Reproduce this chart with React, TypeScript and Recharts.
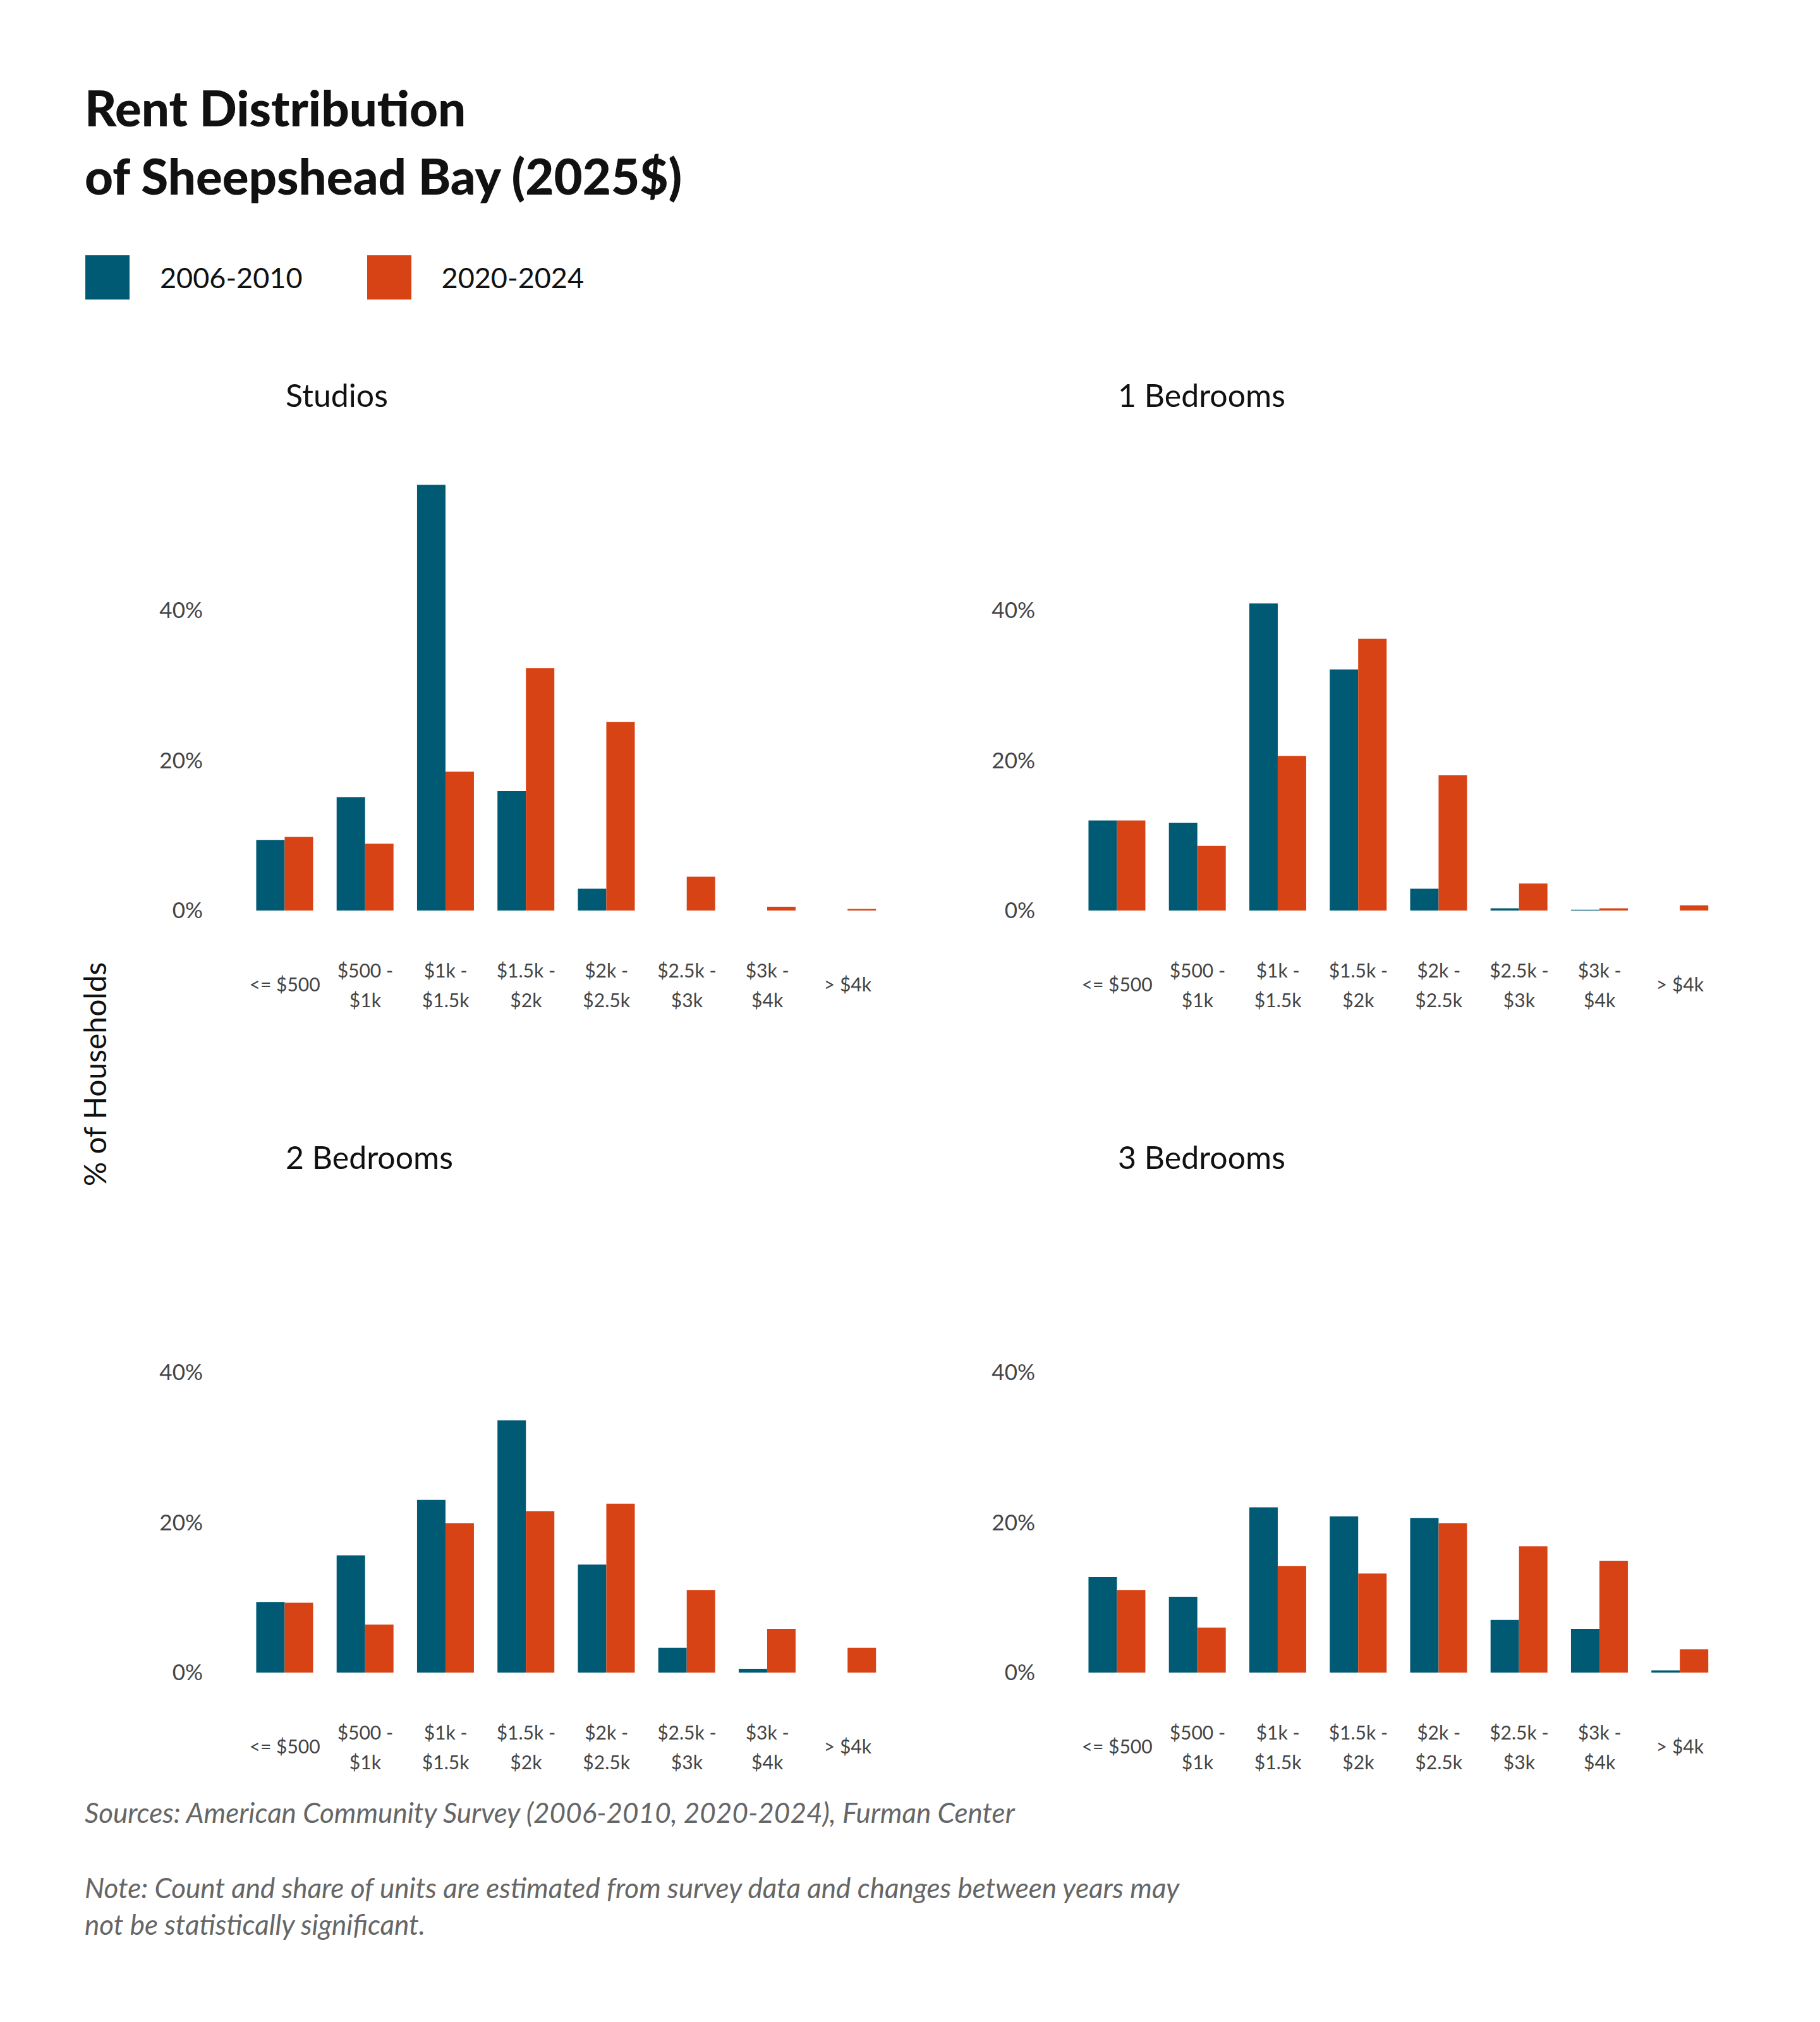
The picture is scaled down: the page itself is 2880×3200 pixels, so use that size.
import { BarChart, Bar, XAxis, YAxis } from 'recharts'

const CATEGORIES = ['<= $500', '$500 -\n$1k', '$1k -\n$1.5k', '$1.5k -\n$2k', '$2k -\n$2.5k', '$2.5k -\n$3k', '$3k -\n$4k', '> $4k']
const PANELS = ['Studios', '1 Bedrooms', '2 Bedrooms', '3 Bedrooms']
const EARLY = [
  [9.4, 15.1, 56.7, 15.9, 2.9, 0, 0, 0],
  [12.0, 11.7, 40.9, 32.1, 2.9, 0.3, 0.1, 0],
  [9.4, 15.6, 23.0, 33.6, 14.4, 3.3, 0.5, 0],
  [12.7, 10.1, 22.0, 20.8, 20.6, 7.0, 5.8, 0.3],
]
const LATE = [
  [9.8, 8.9, 18.5, 32.3, 25.1, 4.5, 0.5, 0.2],
  [12.0, 8.6, 20.6, 36.2, 18.0, 3.6, 0.3, 0.7],
  [9.3, 6.4, 19.9, 21.5, 22.5, 11.0, 5.8, 3.3],
  [11.0, 6.0, 14.2, 13.2, 19.9, 16.8, 14.9, 3.1],
]
const Y_TICKS = [0, 20, 40]

const TEAL = '#005a74'
const ORANGE = '#d84315'
const FONT = 'Lato, "Open Sans", sans-serif'

function XTick({ x, y, payload }: any) {
  const lines = String(payload.value).split('\n')
  const y0 = lines.length === 1 ? y + 120 : y + 98
  return (
    <text x={x} textAnchor="middle" fill="#444" fontSize={30} fontFamily={FONT}>
      {lines.map((l, i) => (
        <tspan key={i} x={x} y={y0 + i * 47}>{l}</tspan>
      ))}
    </text>
  )
}

function Panel({ idx, left, top }: { idx: number; left: number; top: number }) {
  const data = CATEGORIES.map((c, i) => ({ cat: c, early: EARLY[idx][i], late: LATE[idx][i] }))
  return (
    <div style={{ position: 'absolute', left, top }}>
      <div style={{ position: 'absolute', left: 317, top: 0, fontSize: 50, fontFamily: FONT, color: '#111', whiteSpace: 'nowrap' }}>
        {PANELS[idx]}
      </div>
      <div style={{ position: 'absolute', left: 0, top: 110 }}>
        <BarChart width={1270} height={936} data={data} margin={{ top: 23, right: 0, bottom: 0, left: 0 }}
          barCategoryGap="14.5%" barGap={0}>
          <XAxis dataKey="cat" axisLine={false} tickLine={false} interval={0} height={200} tick={<XTick />} />
          <YAxis domain={[0, 60]} ticks={Y_TICKS} width={252} axisLine={false} tickLine={false} tickMargin={60}
            tickFormatter={(v) => `${v}%`} tick={{ fontSize: 35, fill: '#444', fontFamily: FONT }} />
          <Bar dataKey="early" fill={TEAL} isAnimationActive={false} />
          <Bar dataKey="late" fill={ORANGE} isAnimationActive={false} />
        </BarChart>
      </div>
    </div>
  )
}

export default function App() {
  return (
    <div style={{ position: 'relative', width: 2880, height: 3200, background: '#fff', fontFamily: FONT, margin: -8 }}>
      <div style={{ position: 'absolute', left: 134, top: 116, fontSize: 78, fontWeight: 900, lineHeight: '108px', color: '#111' }}>
        Rent Distribution<br />of Sheepshead Bay (2025$)
      </div>
      <div style={{ position: 'absolute', left: 135, top: 404, display: 'flex', alignItems: 'center', fontSize: 45, color: '#111' }}>
        <span style={{ width: 70, height: 70, background: TEAL, display: 'inline-block', marginRight: 48 }} />
        <span style={{ marginRight: 102 }}>2006-2010</span>
        <span style={{ width: 70, height: 70, background: ORANGE, display: 'inline-block', marginRight: 48 }} />
        <span>2020-2024</span>
      </div>
      <div style={{ position: 'absolute', left: 149, top: 1700, transform: 'translate(-50%, -50%) rotate(-90deg)', fontSize: 48, color: '#111', whiteSpace: 'nowrap' }}>
        % of Households
      </div>
      <Panel idx={0} left={135} top={595} />
      <Panel idx={1} left={1452} top={595} />
      <Panel idx={2} left={135} top={1801} />
      <Panel idx={3} left={1452} top={1801} />
      <div style={{ position: 'absolute', left: 134, top: 2842, fontSize: 44, fontStyle: 'italic', color: '#666' }}>
        Sources: American Community Survey (2006-2010, 2020-2024), Furman Center
      </div>
      <div style={{ position: 'absolute', left: 134, top: 2958, fontSize: 44, fontStyle: 'italic', color: '#666', lineHeight: '58px', width: 2100 }}>
        Note: Count and share of units are estimated from survey data and changes between years may<br />not be statistically significant.
      </div>
    </div>
  )
}
